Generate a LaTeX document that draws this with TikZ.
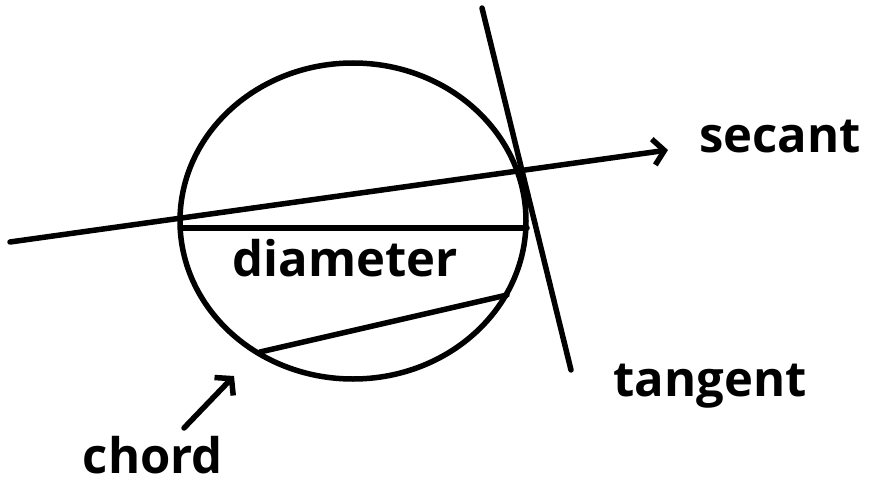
\documentclass[tikz,border=0pt]{standalone}
\usepackage{fontspec}
\setmainfont{Open Sans}
\usetikzlibrary{arrows.meta}
\begin{document}
\begin{tikzpicture}[x=1pt,y=-1pt,line width=5.5pt,line cap=round,line join=round,
  lbl/.style={font=\fontsize{49}{49}\selectfont\bfseries,inner sep=0pt},
  barb/.style={-{Straight Barb[length=11pt,width=26pt]}}]
  \useasboundingbox (0,0) rectangle (873,487);
  \draw (353,221) ellipse [x radius=173,y radius=158];
  \coordinate (sA) at (10,242); \coordinate (sB) at (668,150);
  \draw[barb] (sA)--(sB);
  \coordinate (tA) at (482,8); \coordinate (tB) at (571,370); \draw (tA)--(tB);
  \coordinate (dA) at (181,228); \coordinate (dB) at (527,228); \draw (dA)--(dB);
  \coordinate (cA) at (260,352); \coordinate (cB) at (507,295); \draw (cA)--(cB);
  \node[lbl] (secant) at (780,137) {secant};
  \node[lbl] (diameter) at (345,258) {diameter};
  \node[lbl] (tangent) at (710,386) {tangent};
  \node[lbl] (chord) at (153,455) {chord};
  \coordinate (cp) at (234,376);
  \draw[barb] (184,428)--(cp);
\end{tikzpicture}
\end{document}
